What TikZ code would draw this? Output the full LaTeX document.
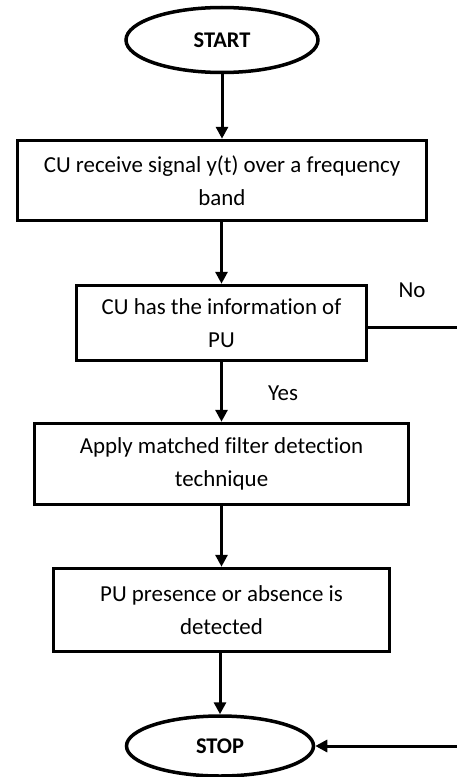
\documentclass[tikz,border=0pt]{standalone}
\usepackage{fontspec}
\setmainfont{Carlito}[Ligatures=NoCommon]
\usetikzlibrary{shapes.geometric,arrows.meta}
\tikzset{
  term/.style={ellipse,draw,line width=3.5bp,inner sep=0pt,font=\fontsize{22.5}{27}\selectfont\bfseries},
  procbox/.style={rectangle,draw,line width=3.5bp,inner sep=0pt,align=center,font=\fontsize{23}{33}\selectfont},
  flow/.style={line width=3bp,-{Triangle[width=12bp,length=12bp]}},
  plain/.style={line width=3bp},
  lbl/.style={font=\fontsize{23}{27}\selectfont,inner sep=0pt}
}
\begin{document}
\begin{tikzpicture}[x=1bp,y=-1bp]
  \useasboundingbox (0,0) rectangle (457,777);
  \node[term,minimum width=192bp,minimum height=65bp] (start) at (222,40) {START};
  \node[procbox,minimum width=409bp,minimum height=80bp] (recv) at (222,180.5)
    {CU receive signal y(t) over a frequency\\band};
  \node[procbox,minimum width=290bp,minimum height=75bp] (info) at (221.5,323)
    {CU has the information of\\PU};
  \node[procbox,minimum width=374bp,minimum height=81bp] (mf) at (221.5,464)
    {Apply matched filter detection\\technique};
  \node[procbox,minimum width=336bp,minimum height=83bp] (det) at (221.5,610)
    {PU presence or absence is\\detected};
  \node[term,minimum width=187bp,minimum height=60bp] (stop) at (220,746) {STOP};

  \node[lbl] (yes) at (283,393) {Yes};
  \node[lbl] (no) at (412,290) {No};

  \draw[flow] (start.south) -- (recv.north -| start.south);
  \draw[flow] (recv.south -| info.north) -- (info.north);
  \draw[flow] (info.south) -- (mf.north);
  \draw[flow] (mf.south) -- (det.north);
  \draw[flow] (det.south -| stop.north) -- (stop.north);

  \coordinate (noend) at (457,327);
  \draw[plain] (info.east |- noend) -- (noend);
  \coordinate (rightedge) at (457,0);
  \draw[flow] (rightedge |- stop.east) -- (stop.east);
\end{tikzpicture}
\end{document}
